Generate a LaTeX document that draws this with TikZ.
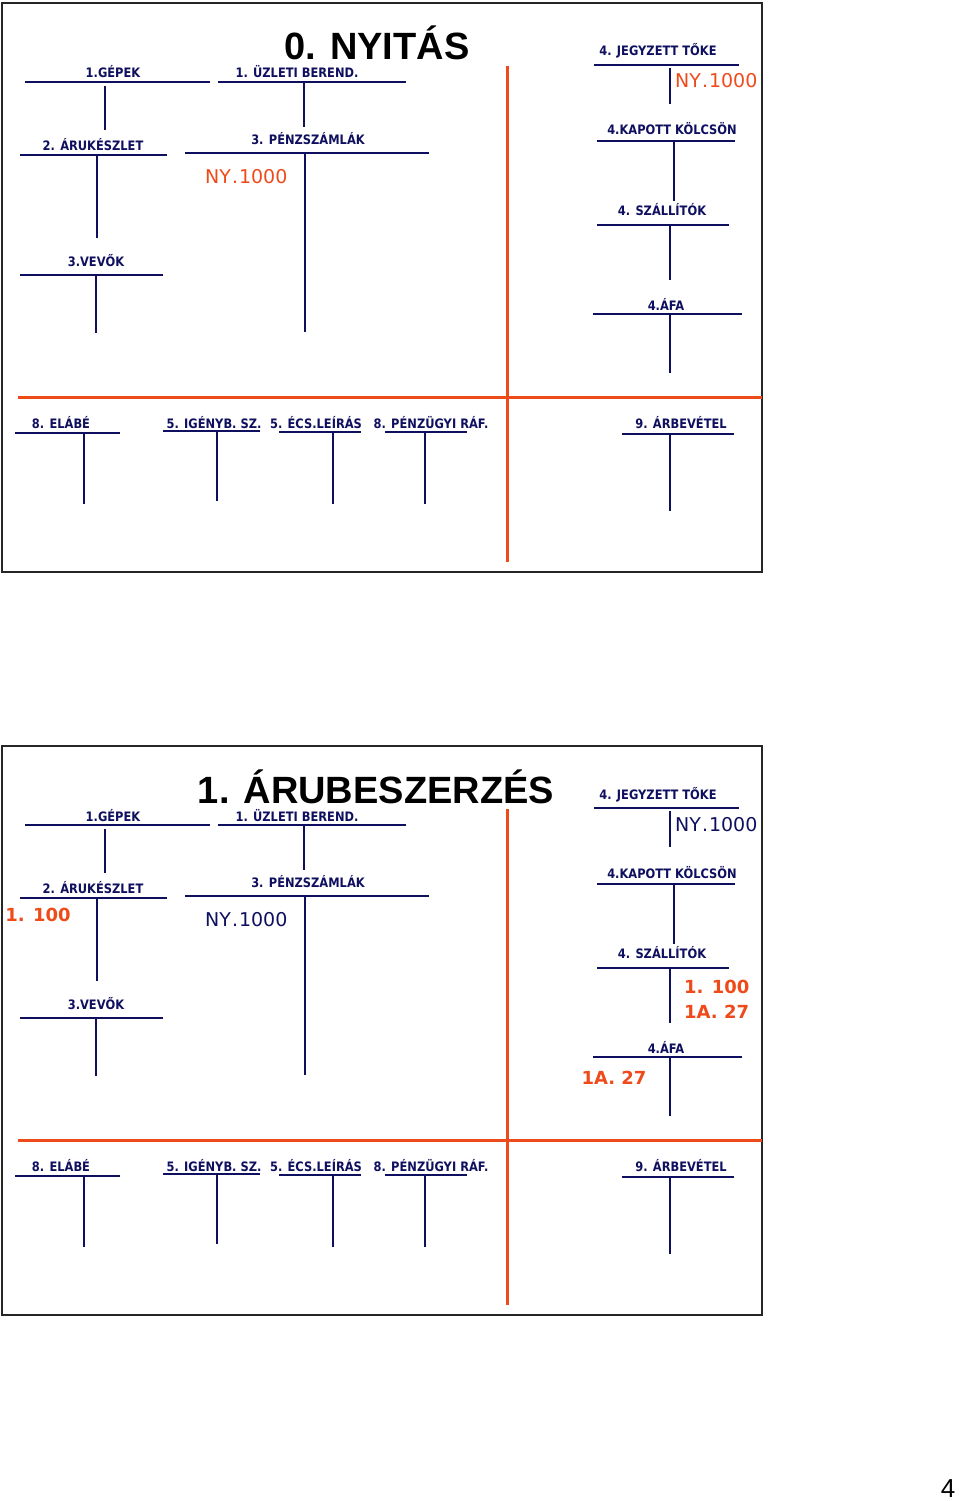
\documentclass[tikz,border=0pt]{standalone}
\usepackage{fontspec}
\usetikzlibrary{positioning}
\newfontfamily\lblfont{DejaVu Sans}
\newfontfamily\narrowfont[FakeStretch=0.88]{DejaVu Sans}
\newfontfamily\ttlfont{Liberation Sans}
\definecolor{acnavy}{RGB}{15,15,95}
\definecolor{acred}{RGB}{238,74,26}

\begin{document}
\begin{tikzpicture}
[x=1pt,y=-1pt,
 lbl/.style={anchor=base,inner sep=0pt,text=acnavy,font=\narrowfont\bfseries\fontsize{13}{15}\selectfont},
 ttl/.style={anchor=base,inner sep=0pt,font=\ttlfont\bfseries\fontsize{38}{40}\selectfont},
 nyval/.style={anchor=base west,inner sep=0pt,font=\lblfont\fontsize{19}{21}\selectfont},
 rednum/.style={anchor=base,inner sep=0pt,text=acred,font=\lblfont\bfseries\fontsize{18}{20}\selectfont},
 tline/.style={draw=acnavy,line width=2.6pt},
 split/.style={draw=acred,line width=3pt},
 slidebox/.style={draw=black!85,line width=2.5pt}]
\useasboundingbox (0,0) rectangle (960,1501);
%two slides, same layout
\foreach \s/\off in {a/0,b/743}{
\begin{scope}[yshift=-\off pt]
\draw[slidebox] (2,3) rectangle (762,572);
\coordinate (vtop\s) at (507,66);
\coordinate (vbot\s) at (507,562);
\coordinate (hleft\s) at (18,397);
\coordinate (hright\s) at (762,397);
\draw[split] (vtop\s) -- (vbot\s) (hleft\s) -- (hright\s);
%name/label/label x/label y/line from/line to/line y/stem x/stem from/stem to
\foreach \n/\t/\lx/\ly/\ax/\bx/\hy/\sx/\sa/\sb in {
  gepek/1.GÉPEK/113/78/25/210/82/105/86/130,
  uzleti/1. ÜZLETI BEREND./297/78/218/406/82/304/82/127,
  aru/2. ÁRUKÉSZLET/93/150/20/167/155/97/155/238,
  penz/3. PÉNZSZÁMLÁK/308/144/185/429/153/305/153/332,
  vevo/3.VEVŐK/96/266/20/163/275/96/275/333,
  toke/4. JEGYZETT TŐKE/658/56/594/739/65/670/68/104,
  kolcson/4.KAPOTT KÖLCSÖN/672/135/597/735/141/674/141/201,
  szall/4. SZÁLLÍTÓK/662/215/597/729/225/670/225/280,
  afa/4.ÁFA/666/310/593/742/314/670/314/373,
  elabe/8. ELÁBÉ/61/428/15/120/433/84/433/504,
  igenyb/5. IGÉNYB. SZ./214/428/163/260/431/217/431/501,
  ecs/5. ÉCS.LEÍRÁS/316/428/279/361/432/333/432/504,
  penzugyi/8. PÉNZÜGYI RÁF./431/428/385/467/432/425/432/504,
  arbev/9. ÁRBEVÉTEL/681/428/622/734/434/670/434/511}{
  \node[lbl] (\n\s) at (\lx,\ly) {\t};
  \coordinate (\n\s-l) at (\ax,\hy);
  \coordinate (\n\s-r) at (\bx,\hy);
  \coordinate (\n\s-t) at (\sx,\sa);
  \coordinate (\n\s-b) at (\sx,\sb);
  \draw[tline] (\n\s-l) -- (\n\s-r) (\n\s-t) -- (\n\s-b);
}
\end{scope}
}
%slide 0
\node[ttl] (title0) at (377,60) {0. NYITÁS};
\node[nyval,text=acred] (penzny0) at (205,183) {NY\kern1pt.\kern1pt1000};
\node[nyval,text=acred] (tokeny0) at (675,88) {NY\kern1pt.\kern1pt1000};
%slide 1
\node[ttl] (title1) at (376,803) {1. ÁRUBESZERZÉS};
\node[nyval,text=acnavy] (penzny1) at (205,926) {NY\kern1pt.\kern1pt1000};
\node[nyval,text=acnavy] (tokeny1) at (675,831) {NY\kern1pt.\kern1pt1000};
\node[rednum] (aru1) at (38,921) {1. 100};
\node[rednum,anchor=base west] (szall1) at (684,993) {1. 100};
\node[rednum,below=11pt of szall1.south west,anchor=north west] (szall1a) {1A. 27};
\node[rednum] (afa1a) at (614,1084) {1A. 27};
\node[anchor=base,inner sep=0pt,font=\ttlfont\fontsize{26}{28}\selectfont] (pagenum) at (948,1497) {4};
\end{tikzpicture}
\end{document}
